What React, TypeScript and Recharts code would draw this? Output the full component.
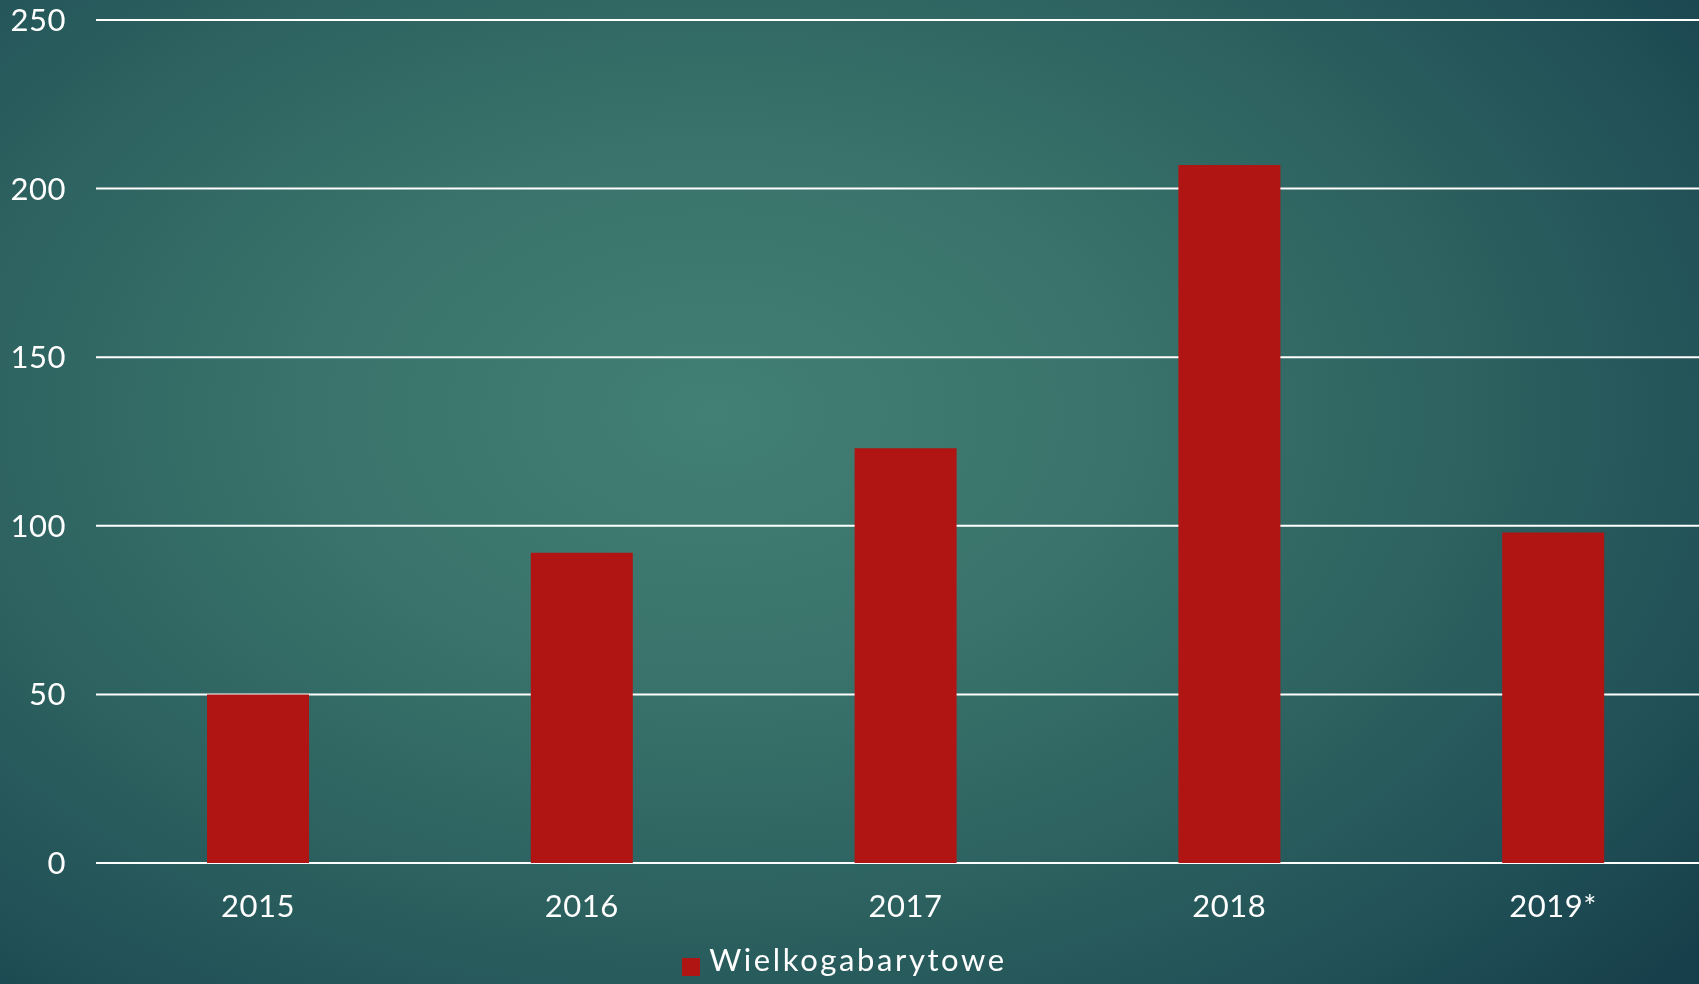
import { BarChart, Bar, XAxis, YAxis, CartesianGrid, Legend } from "recharts";

const years = ["2015", "2016", "2017", "2018", "2019*"];
const wielkogabarytowe = [50, 92, 123, 207, 98];
const yTicks = [0, 50, 100, 150, 200, 250];

const data = years.map((year, i) => ({ year, value: wielkogabarytowe[i] }));

const FONT = "Lato, 'Open Sans', sans-serif";

export default function App() {
  return (
    <div
      style={{
        position: "fixed",
        left: 0,
        top: 0,
        width: 1699,
        height: 984,
        overflow: "hidden",
        fontFamily: FONT,
        background:
          "radial-gradient(ellipse 75% 85% at 42% 42%, #427f74 0%, #3a746c 30%, #2c615f 60%, #215157 82%, #173f4b 100%)",
      }}
    >
      <BarChart
        width={1720}
        height={984}
        data={data}
        margin={{ top: 20, right: 5, bottom: 91, left: 0 }}
      >
        <CartesianGrid vertical={false} stroke="#ffffff" strokeWidth={2} />
        <XAxis
          dataKey="year"
          height={30}
          axisLine={false}
          tickLine={false}
          tickSize={0}
          tickMargin={32}
          tick={{ fill: "#ffffff", fontSize: 31, fontFamily: FONT, letterSpacing: 0.5 }}
        />
        <YAxis
          width={96}
          domain={[0, 250]}
          ticks={yTicks}
          axisLine={false}
          tickLine={false}
          tickSize={0}
          tickMargin={30}
          tick={{ fill: "#ffffff", fontSize: 31, fontFamily: FONT, letterSpacing: 0.5 }}
        />
        <Legend
          verticalAlign="middle"
          iconType="square"
          iconSize={18}
          wrapperStyle={{ left: 0, width: 1699, top: 940 }}
          formatter={(v) => (
            <span
              style={{ color: "#ffffff", fontSize: 31, fontFamily: FONT, marginLeft: 5, letterSpacing: 2.6 }}
            >
              {v}
            </span>
          )}
        />
        <Bar
          dataKey="value"
          name="Wielkogabarytowe"
          fill="#b01513"
          barSize={102}
          isAnimationActive={false}
        />
      </BarChart>
    </div>
  );
}
